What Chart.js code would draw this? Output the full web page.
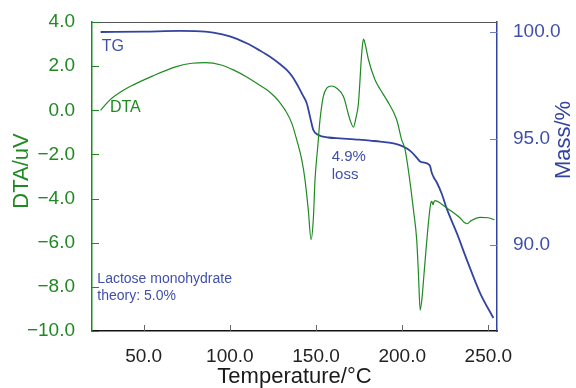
<!DOCTYPE html>
<html>
<head>
<meta charset="utf-8">
<script src="https://cdn.jsdelivr.net/npm/chart.js@4.4.1/dist/chart.umd.min.js"></script>
<style>
html, body { margin: 0; padding: 0; background: #fff; }
</style>
</head>
<body>
<canvas id="thermoChart" width="576" height="388"></canvas>
<script>
// DTA curve (left axis)
const dtaTemp = [25, 30.4, 37, 44, 55, 69, 78, 86, 95, 102, 110, 116, 122, 126.2, 129, 132, 135.9, 138.8, 141.7,
    143.6, 145.5, 147.1, 148.4, 149.4, 151, 152.3, 154.2, 156.2, 159.1, 162, 165.9, 169.7, 171.7,
    173, 174.6, 176.5, 177.5, 178.5, 180.4, 184.2, 187.2, 191, 196.8, 199.7, 201.7, 204.6, 206.5, 208.4,
    209.4, 210.4, 211.5, 212.7, 215.2, 216.6, 217.2, 217.8, 218.4, 219.1, 222, 225.9, 230, 233.6, 235.5,
    237.5, 240, 245.2, 250, 253.5];
const dtaValue = [0.0, 0.47, 0.85, 1.15, 1.55, 1.98, 2.13, 2.16, 2.05, 1.83, 1.5, 1.2, 0.9, 0.6, 0.35, 0.02, -0.58, -1.34, -2.24,
    -3.15, -4.51, -5.86, -4.96, -3.15, -1.64, -0.43, 0.62, 1.0, 1.1, 1.0, 0.62, -0.43, -0.76,
    -0.4, 0.32, 2.58, 3.22, 3.0, 2.3, 1.38, 0.95, 0.47, -0.43, -1.34, -1.79, -3.3, -4.5, -5.86,
    -7.37, -9.05, -8.5, -7.37, -5.1, -4.2, -4.13, -4.28, -4.15, -4.09, -4.2, -4.43, -4.65, -4.88, -5.05,
    -5.14, -5.0, -4.85, -4.87, -4.96];

// TG curve (right axis)
const tgTemp = [25, 50, 71, 80, 90.4, 100, 109.8, 117, 123.3, 129, 133, 136.5, 139.7, 142.2, 144.6, 146.5,
    148.4, 151.3, 157.1, 163.9, 175, 181.3, 187.2, 195, 200.7, 205, 209, 210.4, 213, 214.3, 215.5,
    216.2, 217.2, 218.5, 220, 223, 225.9, 231.7, 237.5, 245.2, 252.9];
const tgMass = [100.0, 100.02, 100.05, 100.04, 99.97, 99.8, 99.47, 99.15, 98.84, 98.5, 98.22, 97.88, 97.44, 97.05, 96.66, 96.03,
    95.41, 95.17, 95.05, 95.01, 94.95, 94.9, 94.86, 94.77, 94.62, 94.4, 94.05, 93.92, 93.87, 93.84, 93.78,
    93.7, 93.38, 93.15, 92.95, 92.4, 91.7, 90.56, 89.31, 87.75, 86.58];

const tempTicks = [50, 100, 150, 200, 250];
const dtaTicks = [-10, -8, -6, -4, -2, 0, 2, 4];
const massTicks = [90, 95, 100];

const green = '#1f8a22';
const blue = '#3343a0';
const blueText = '#4050aa';

const notes = [
    { text: 'TG', x: 25.6, y: 99.31, axis: 'mass', color: blueText, size: 16 },
    { text: 'DTA', x: 30.4, y: 0.12, axis: 'dta', color: green, size: 16 },
    { text: '4.9%', x: 159.1, y: 94.15, axis: 'mass', color: blueText, size: 15 },
    { text: 'loss', x: 159.1, y: 93.29, axis: 'mass', color: blueText, size: 15 },
    { text: 'Lactose monohydrate', x: 23.1, y: -7.67, axis: 'dta', color: blueText, size: 14 },
    { text: 'theory: 5.0%', x: 23.1, y: -8.42, axis: 'dta', color: blueText, size: 14 }
];

const fontFamily = '"Liberation Sans", Arial, Helvetica, sans-serif';
Chart.defaults.font.family = fontFamily;

function fmt(v) {
    return v.toFixed(1).replace('-', '\u2212');
}

// inward tick marks, top frame line, text notes and vertical axis titles
const extras = {
    id: 'extras',
    afterDraw(chart) {
        const { ctx, chartArea: a, scales } = chart;
        ctx.save();
        ctx.lineWidth = 1;

        ctx.strokeStyle = '#555';
        ctx.beginPath();
        ctx.moveTo(a.left, a.top + 0.5);
        ctx.lineTo(a.right, a.top + 0.5);
        ctx.stroke();

        ctx.strokeStyle = '#666';
        scales.x.ticks.forEach(t => {
            const px = Math.round(scales.x.getPixelForValue(t.value)) + 0.5;
            ctx.beginPath();
            ctx.moveTo(px, a.bottom);
            ctx.lineTo(px, a.bottom - 6);
            ctx.stroke();
        });
        ctx.strokeStyle = green;
        scales.dta.ticks.forEach(t => {
            const py = Math.round(scales.dta.getPixelForValue(t.value)) + 0.5;
            ctx.beginPath();
            ctx.moveTo(a.left, py);
            ctx.lineTo(a.left + 7, py);
            ctx.stroke();
        });
        ctx.strokeStyle = '#6d7bc0';
        scales.mass.ticks.forEach(t => {
            const py = Math.round(scales.mass.getPixelForValue(t.value)) + 0.5;
            ctx.beginPath();
            ctx.moveTo(a.right, py);
            ctx.lineTo(a.right - 7, py);
            ctx.stroke();
        });

        ctx.textBaseline = 'middle';
        ctx.textAlign = 'left';
        notes.forEach(n => {
            ctx.fillStyle = n.color;
            ctx.font = n.size + 'px ' + fontFamily;
            ctx.fillText(n.text, scales.x.getPixelForValue(n.x), scales[n.axis].getPixelForValue(n.y));
        });

        ctx.textAlign = 'center';
        ctx.font = '22px ' + fontFamily;
        ctx.fillStyle = green;
        ctx.save();
        ctx.translate(22, 171);
        ctx.rotate(-Math.PI / 2);
        ctx.fillText('DTA/uV', 0, 0);
        ctx.restore();

        ctx.fillStyle = blue;
        ctx.save();
        ctx.translate(chart.width - 12, 140);
        ctx.rotate(-Math.PI / 2);
        ctx.fillText('Mass/%', 0, 0);
        ctx.restore();

        ctx.restore();
    }
};

const ctx = document.getElementById('thermoChart').getContext('2d');
new Chart(ctx, {
    type: 'line',
    data: {
        datasets: [{
            label: 'DTA',
            data: dtaTemp.map((t, i) => ({ x: t, y: dtaValue[i] })),
            yAxisID: 'dta',
            borderColor: green,
            borderWidth: 1.2,
            pointRadius: 0,
            cubicInterpolationMode: 'monotone',
            fill: false
        }, {
            label: 'TG',
            data: tgTemp.map((t, i) => ({ x: t, y: tgMass[i] })),
            yAxisID: 'mass',
            borderColor: blue,
            borderWidth: 1.8,
            pointRadius: 0,
            cubicInterpolationMode: 'monotone',
            fill: false
        }]
    },
    options: {
        responsive: false,
        animation: false,
        layout: { padding: { top: 22, left: 0, right: 0, bottom: 0 } },
        plugins: {
            legend: { display: false },
            tooltip: { enabled: false }
        },
        scales: {
            x: {
                type: 'linear',
                min: 20,
                max: 255,
                afterBuildTicks: s => { s.ticks = tempTicks.map(v => ({ value: v })); },
                afterFit: s => { s.height = 57; },
                grid: { display: false },
                border: { color: '#111', width: 1.5 },
                ticks: { color: '#222', font: { size: 19 }, padding: 6, maxRotation: 0, callback: fmt },
                title: {
                    display: true,
                    text: 'Temperature/°C',
                    color: '#1a1a1a',
                    font: { size: 22, lineHeight: 1 },
                    padding: { top: 0, bottom: 0 }
                }
            },
            dta: {
                type: 'linear',
                position: 'left',
                min: -10,
                max: 4,
                afterBuildTicks: s => { s.ticks = dtaTicks.map(v => ({ value: v })); },
                afterFit: s => { s.width = 92; },
                grid: { display: false },
                border: { color: green, width: 1.5 },
                ticks: { color: green, font: { size: 19 }, padding: 9, callback: fmt }
            },
            mass: {
                type: 'linear',
                position: 'right',
                min: 85.97,
                max: 100.47,
                afterBuildTicks: s => { s.ticks = massTicks.map(v => ({ value: v })); },
                afterFit: s => { s.width = 79; },
                grid: { display: false },
                border: { color: blue, width: 1.5 },
                ticks: { color: blueText, font: { size: 19 }, padding: 8, callback: fmt }
            }
        }
    },
    plugins: [extras]
});
</script>
</body>
</html>
